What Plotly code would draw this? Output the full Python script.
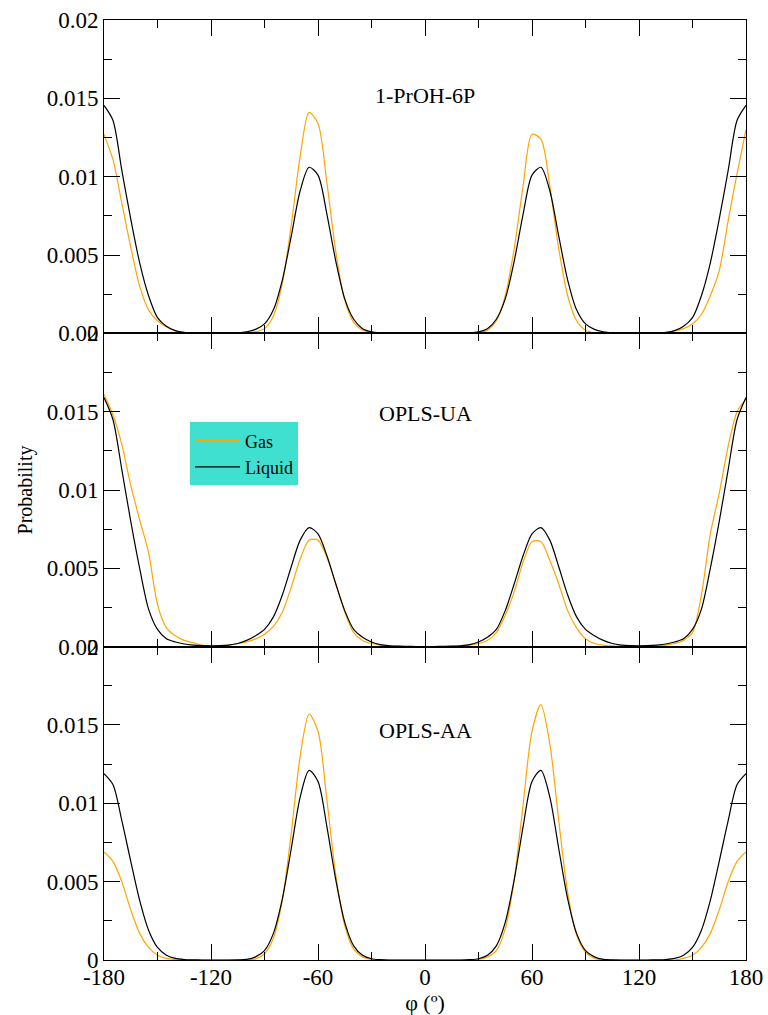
import plotly.graph_objects as go

# Dihedral angle grid (degrees)
phi = list(range(-180, 181, 5))

# ---- Panel 1: 1-PrOH-6P ----
top_gas = [0.0127, 0.0111, 0.0083, 0.0055, 0.0030, 0.0015, 0.0008, 0.0004, 0.00015, 0.00005,
           0.00001, 0, 0, 0, 0, 0.00001, 0.00003, 0.0001, 0.0003, 0.0011,
           0.0032, 0.0069, 0.0113, 0.0141, 0.0134, 0.0096, 0.0052, 0.0021, 0.0007, 0.0002,
           0.00005, 0.00001, 0, 0, 0, 0, 0, 0, 0, 0,
           0, 0.00001, 0.00004, 0.0002, 0.0008, 0.0024, 0.0054, 0.0094, 0.0127, 0.0124,
           0.0094, 0.0054, 0.0024, 0.0008, 0.0002, 0.00004, 0.00001, 0, 0, 0,
           0, 0, 0.00002, 0.00005, 0.00015, 0.0003, 0.0006, 0.0012, 0.0024, 0.0040,
           0.0072, 0.0102, 0.0130]
top_liq = [0.01455, 0.0136, 0.0104, 0.0073, 0.0045, 0.0024, 0.0010, 0.00045, 0.00017, 0.00006,
           0.00002, 0.00001, 0, 0, 0.00001, 0.00003, 0.0001, 0.00025, 0.0006, 0.0015,
           0.0034, 0.0062, 0.0091, 0.0106, 0.0101, 0.0076, 0.0046, 0.0022, 0.0009, 0.0003,
           0.0001, 0.00003, 0.00001, 0, 0, 0, 0, 0, 0, 0,
           0.00001, 0.00003, 0.0001, 0.0003, 0.0009, 0.0022, 0.0046, 0.0076, 0.0101, 0.0106,
           0.0091, 0.0062, 0.0034, 0.0015, 0.0006, 0.00025, 0.0001, 0.00003, 0.00001, 0,
           0, 0.00001, 0.00002, 0.00006, 0.00017, 0.00045, 0.0010, 0.0024, 0.0045, 0.0073,
           0.0104, 0.0136, 0.01455]

# ---- Panel 2: OPLS-UA ----
mid_gas = [0.0161, 0.0148, 0.0129, 0.0103, 0.0081, 0.0060, 0.0027, 0.0012, 0.0007, 0.0004,
           0.00025, 0.0001, 0.00005, 0.00004, 0.0001, 0.0002, 0.0003, 0.0005, 0.0008, 0.0013,
           0.0022, 0.0038, 0.0056, 0.0068, 0.0068, 0.0057, 0.0040, 0.0022, 0.0009, 0.0004,
           0.0002, 0.0001, 0.00005, 0.00002, 0.00001, 0.00001, 0.00001, 0.00001, 0.00001, 0.00002,
           0.00005, 0.0001, 0.0002, 0.0004, 0.0009, 0.0020, 0.0035, 0.0054, 0.0067, 0.0067,
           0.0055, 0.0040, 0.0023, 0.0012, 0.0005, 0.0002, 0.0001, 0.00005, 0.00003, 0.00002,
           0.00002, 0.00004, 0.00005, 0.0001, 0.0002, 0.0004, 0.0009, 0.0033, 0.0072, 0.0098,
           0.0128, 0.0150, 0.0158]
mid_liq = [0.0159, 0.0145, 0.0113, 0.0080, 0.0050, 0.0024, 0.0011, 0.0005, 0.0003, 0.00017,
           0.0001, 0.00006, 0.00005, 0.00006, 0.0001, 0.0002, 0.0004, 0.0007, 0.0011, 0.0019,
           0.0033, 0.0051, 0.0068, 0.0076, 0.0072, 0.0058, 0.0040, 0.0023, 0.0011, 0.0006,
           0.0003, 0.00013, 0.00006, 0.00003, 0.00002, 0.00001, 0.00001, 0.00001, 0.00002, 0.00003,
           0.00006, 0.00013, 0.0003, 0.0006, 0.0011, 0.0023, 0.0040, 0.0058, 0.0072, 0.0076,
           0.0068, 0.0051, 0.0033, 0.0019, 0.0011, 0.0007, 0.0004, 0.0002, 0.0001, 0.00006,
           0.00005, 0.00006, 0.0001, 0.00017, 0.0003, 0.0005, 0.0011, 0.0024, 0.0050, 0.0080,
           0.0113, 0.0145, 0.0159]

# ---- Panel 3: OPLS-AA ----
bot_gas = [0.0069, 0.0063, 0.0050, 0.0032, 0.0017, 0.0008, 0.0003, 0.0001, 0.00003, 0,
           0, 0, 0, 0, 0, 0, 0, 0.00007, 0.0004, 0.0014,
           0.0038, 0.0081, 0.0130, 0.0157, 0.0146, 0.0102, 0.0054, 0.0022, 0.0007, 0.0002,
           0.00004, 0, 0, 0, 0, 0, 0, 0, 0, 0,
           0, 0, 0.00004, 0.0002, 0.0006, 0.0020, 0.0051, 0.0099, 0.0146, 0.0163,
           0.0138, 0.0089, 0.0043, 0.0016, 0.0005, 0.0001, 0, 0, 0, 0,
           0, 0, 0, 0, 0, 0.0001, 0.0003, 0.0008, 0.0017, 0.0032,
           0.0050, 0.0063, 0.0069]
bot_liq = [0.0119, 0.0112, 0.0089, 0.0063, 0.0038, 0.0019, 0.0008, 0.0003, 0.0001, 0.00003,
           0.00001, 0, 0, 0, 0, 0.00001, 0.00004, 0.0002, 0.0006, 0.0017,
           0.0039, 0.0071, 0.0104, 0.0121, 0.0114, 0.0085, 0.0051, 0.0024, 0.0009, 0.0003,
           0.00008, 0.00002, 0, 0, 0, 0, 0, 0, 0, 0,
           0, 0.00002, 0.00008, 0.0003, 0.0009, 0.0024, 0.0051, 0.0085, 0.0114, 0.0121,
           0.0104, 0.0071, 0.0039, 0.0017, 0.0006, 0.0002, 0.00004, 0.00001, 0, 0,
           0, 0, 0.00001, 0.00003, 0.0001, 0.0003, 0.0008, 0.0019, 0.0038, 0.0063,
           0.0089, 0.0112, 0.0119]

panel_names = ["1-PrOH-6P", "OPLS-UA", "OPLS-AA"]
gas_series = [top_gas, mid_gas, bot_gas]
liq_series = [top_liq, mid_liq, bot_liq]

x_tickvals = [-180, -120, -60, 0, 60, 120, 180]
x_ticktext = ["-180", "-120", "-60", "0", "60", "120", "180"]
x_minor = [-150, -90, -30, 30, 90, 150]

GAS_COLOR = "#FFA500"
LIQ_COLOR = "#000000"
FONT = "Liberation Serif"

fig = go.Figure()
for i in range(3):
    xa = "x" if i == 0 else f"x{i+1}"
    ya = "y" if i == 0 else f"y{i+1}"
    fig.add_trace(go.Scatter(x=phi, y=gas_series[i], mode="lines", name="Gas",
                             line=dict(color=GAS_COLOR, width=1.2, shape="spline", smoothing=0.8),
                             xaxis=xa, yaxis=ya, showlegend=(i == 0), legendgroup="gas"))
    fig.add_trace(go.Scatter(x=phi, y=liq_series[i], mode="lines", name="Liquid",
                             line=dict(color=LIQ_COLOR, width=1.2, shape="spline", smoothing=0.8),
                             xaxis=xa, yaxis=ya, showlegend=(i == 0), legendgroup="liq"))

domains = [[2/3, 1.0], [1/3, 2/3], [0.0, 1/3]]

layout = dict(
    width=768, height=1015,
    margin=dict(l=104, r=22, t=20, b=55, autoexpand=False),
    paper_bgcolor="white", plot_bgcolor="white",
    font=dict(family=FONT, color="black", size=22),
    showlegend=True,
    legend=dict(x=0.134, y=0.572, xanchor="left", yanchor="top",
                bgcolor="#40E0D0", borderwidth=0,
                font=dict(family=FONT, size=18, color="black"),
                tracegroupgap=0, itemwidth=45),
)

for i in range(3):
    xkey = "xaxis" if i == 0 else f"xaxis{i+1}"
    ykey = "yaxis" if i == 0 else f"yaxis{i+1}"
    xa = dict(
        domain=[0, 1], range=[-180, 180], anchor="y" if i == 0 else f"y{i+1}",
        tickmode="array", tickvals=x_tickvals, ticktext=x_ticktext,
        ticks="inside", ticklen=16, tickwidth=1, tickcolor="black",
        minor=dict(tickmode="array", tickvals=x_minor, ticks="inside", ticklen=8,
                   tickwidth=1, tickcolor="black", showgrid=False),
        showline=True, linecolor="black", linewidth=1, mirror="ticks",
        showgrid=False, zeroline=False, automargin=False,
        showticklabels=(i == 2),
        tickfont=dict(family=FONT, size=23, color="black"),
    )
    if i == 2:
        xa["ticklabelstandoff"] = -4
        xa["title"] = dict(text="φ (º)", font=dict(family=FONT, size=22, color="black"),
                           standoff=5)
    ya = dict(
        domain=domains[i], range=[0, 0.02], anchor="x" if i == 0 else f"x{i+1}",
        tickmode="linear", tick0=0, dtick=0.005,
        ticks="inside", ticklen=16, tickwidth=1, tickcolor="black",
        minor=dict(dtick=0.0025, ticks="inside", ticklen=8, tickwidth=1,
                   tickcolor="black", showgrid=False),
        showline=True, linecolor="black", linewidth=1, mirror="ticks",
        showgrid=False, zeroline=False, automargin=False,
        tickfont=dict(family=FONT, size=23, color="black"),
    )
    if i == 1:
        ya["title"] = dict(text="Probability", font=dict(family=FONT, size=20, color="black"),
                           standoff=8)
    layout[xkey] = xa
    layout[ykey] = ya

fig.update_layout(**layout)

label_y = [0.0152, 0.0149, 0.01465]
for i in range(3):
    fig.add_annotation(text=panel_names[i], x=0, y=label_y[i],
                       xref="x" if i == 0 else f"x{i+1}",
                       yref="y" if i == 0 else f"y{i+1}",
                       showarrow=False, xanchor="center", yanchor="middle",
                       font=dict(family=FONT, size=22, color="black"))

fig.write_html("out.html")
